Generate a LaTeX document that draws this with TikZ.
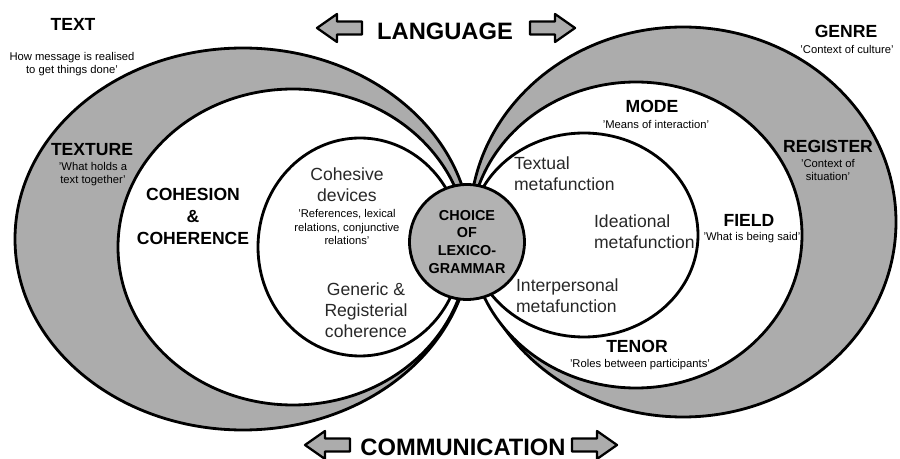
\documentclass[tikz,border=0pt]{standalone}
\usepackage{color}
\usepackage{fontspec}
\setmainfont{Liberation Sans}
\usepackage{tikz}

\definecolor{bandgrey}{RGB}{172,172,172}
\definecolor{coregrey}{RGB}{178,178,178}
\definecolor{bodygrey}{RGB}{40,40,40}

\tikzset{
  band/.style={draw=black, line width=1.6pt, fill=bandgrey},
  field/.style={draw=black, line width=1.6pt, fill=white},
  blockarrow/.style={draw=black, line width=1.3pt, fill=bandgrey, line join=round},
  bighead/.style={font=\fontsize{13.5}{16}\selectfont\bfseries, inner sep=1pt},
  head/.style={font=\fontsize{10}{12.5}\selectfont\bfseries, align=center, inner sep=1pt},
  note/.style={font=\fontsize{6.4}{7.8}\selectfont, align=center, inner sep=1pt},
  body/.style={font=\fontsize{10}{12}\selectfont, text=bodygrey, align=left, inner sep=1pt},
  core/.style={circle, draw=black, line width=1.6pt, fill=coregrey, minimum size=2.3cm,
    inner sep=0pt, align=center, font=\fontsize{8.2}{10.2}\selectfont\bfseries}
}

\begin{document}
\begin{tikzpicture}[x=0.02cm, y=-0.02cm]
\useasboundingbox (0,0) rectangle (900,459);

% text side
\draw[band] (243,239) ellipse [x radius=228, y radius=191];
\draw[field] (293,247) ellipse [x radius=175, y radius=158];
\draw[field] (360,247) ellipse [x radius=102, y radius=109];
% genre side
\draw[band] (683,222) ellipse [x radius=213, y radius=195];
\draw[field] (636,235) ellipse [x radius=166, y radius=153];
\draw[field] (584,235) ellipse [x radius=114, y radius=102];

\node[core] (choice) at (467,242) {CHOICE\\OF\\LEXICO-\\GRAMMAR};

% arrows
\foreach \tipx/\tipy/\dir in {317/28/1, 575/28/-1, 305/445/1, 617/445/-1}
  \draw[blockarrow, shift={(\tipx,\tipy)}, xscale=\dir] (0,0) -- (20,-14) -- (20,-6.5)
    -- (45,-6.5) -- (45,6.5) -- (20,6.5) -- (20,14) -- cycle;

\node[bighead] (language) at (445,31) {LANGUAGE};
\node[bighead] (communication) at (463,447) {COMMUNICATION};

\node[head] (text) at (73,24) {TEXT};
\node[note] (textnote) at (72,64) {How message is realised\\to get things done'};
\node[head] (texture) at (92,150) {TEXTURE};
\node[note] (texturenote) at (93,174) {'What holds a\\text together'};
\node[head] (cohesion) at (193,216) {COHESION\\\&\\COHERENCE};
\node[body, align=center] (devices) at (347,185) {Cohesive\\devices};
\node[note] (devicesnote) at (347,227) {'References, lexical\\relations, conjunctive\\relations'};
\node[body, align=center] (generic) at (366,310) {Generic \&\\Registerial\\coherence};

\node[head] (genre) at (846,31) {GENRE};
\node[note] (genrenote) at (847,49) {'Context of culture'};
\node[head] (mode) at (652,106) {MODE};
\node[note] (modenote) at (656,124) {'Means of interaction'};
\node[head] (register) at (828,146) {REGISTER};
\node[note] (registernote) at (828,170) {'Context of\\situation'};
\node[body, anchor=west] (textual) at (512,174) {Textual\\metafunction};
\node[body, anchor=west] (ideational) at (592,232) {Ideational\\metafunction};
\node[head] (field) at (749,220) {FIELD};
\node[note] (fieldnote) at (752,238) {'What is being said'};
\node[body, anchor=west] (interpersonal) at (514,296) {Interpersonal\\metafunction};
\node[head] (tenor) at (637,346) {TENOR};
\node[note] (tenornote) at (640,365) {'Roles between participants'};
\end{tikzpicture}
\end{document}
